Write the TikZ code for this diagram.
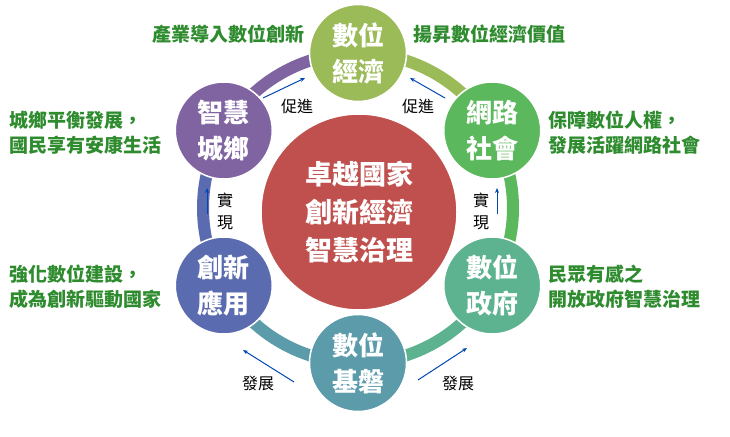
\documentclass[tikz,border=0pt]{standalone}
\usepackage{fontspec}
\setmainfont{Noto Sans CJK TC}
\usetikzlibrary{arrows.meta}
\definecolor{cPurple}{HTML}{8064A2}
\definecolor{cLime}{HTML}{9BBB59}
\definecolor{cGreen}{HTML}{5CB85C}
\definecolor{cSea}{HTML}{5DB38F}
\definecolor{cTeal}{HTML}{5B9BAA}
\definecolor{cBlue}{HTML}{5B6BAF}
\definecolor{cRed}{HTML}{C0504D}
\definecolor{cText}{HTML}{2E8B2E}
\tikzset{
  ball/.style={circle, draw=white, line width=1.5pt, minimum size=97pt, inner sep=0pt,
    text=white, font=\fontsize{26}{36}\selectfont\bfseries, align=center},
  ring/.style={line width=12pt},
  flow/.style={draw=blue!60!cyan!70!black, line width=1pt, -{Stealth[length=5pt, width=4pt]}},
  tag/.style={font=\fontsize{16}{19}\selectfont, text=black},
  goal/.style={font=\fontsize{19}{25}\selectfont\bfseries, text=cText, align=left}
}
\begin{document}
\begin{tikzpicture}[x=1pt, y=1pt]
        \useasboundingbox (0,0) rectangle (730,436);
        \coordinate (hub) at (358,228);
        % ring behind the circles
        \draw[ring, cPurple] ([shift={(150:155)}]hub) arc (150:90:155);
        \draw[ring, cLime] ([shift={(90:155)}]hub) arc (90:30:155);
        \draw[ring, cGreen] ([shift={(30:155)}]hub) arc (30:-30:155);
        \draw[ring, cSea] ([shift={(-30:155)}]hub) arc (-30:-90:155);
        \draw[ring, cTeal] ([shift={(-90:155)}]hub) arc (-90:-150:155);
        \draw[ring, cBlue] ([shift={(-150:155)}]hub) arc (-150:-210:155);
        % circles
        \node[ball, fill=cRed, minimum size=196pt, font=\fontsize{27}{38}\selectfont\bfseries] (core) at (359,224) {卓越國家\\創新經濟\\智慧治理};
        \node[ball, fill=cLime] (econ) at ([shift={(90:155)}]hub) {數位\\經濟};
        \node[ball, fill=cGreen] (net) at ([shift={(30:155)}]hub) {網路\\社會};
        \node[ball, fill=cSea] (gov) at ([shift={(-30:155)}]hub) {數位\\政府};
        \node[ball, fill=cTeal] (base) at ([shift={(-90:155)}]hub) {數位\\基磐};
        \node[ball, fill=cBlue] (app) at ([shift={(-150:155)}]hub) {創新\\應用};
        \node[ball, fill=cPurple] (city) at ([shift={(150:155)}]hub) {智慧\\城鄉};
        % small arrows
        \coordinate (pL1) at (263,338); \coordinate (pL2) at (305,358);
        \coordinate (pR1) at (445,338); \coordinate (pR2) at (410,358);
        \coordinate (sL1) at (207,222); \coordinate (sL2) at (207,248);
        \coordinate (sR1) at (497,222); \coordinate (sR2) at (497,248);
        \coordinate (dL1) at (294,54); \coordinate (dL2) at (243,86);
        \coordinate (dR1) at (418,56); \coordinate (dR2) at (467,88);
        \draw[flow] (pL1) -- (pL2);
        \draw[flow] (pR1) -- (pR2);
        \draw[flow] (sL1) -- (sL2);
        \draw[flow] (sR1) -- (sR2);
        \draw[flow] (dL1) -- (dL2);
        \draw[flow] (dR1) -- (dR2);
        \node[tag] (tpL) at (297,330) {促進};
        \node[tag] (tpR) at (418,330) {促進};
        \node[tag, align=center, font=\fontsize{16}{22}\selectfont] (tsL) at (225,225) {實\\現};
        \node[tag, align=center, font=\fontsize{16}{22}\selectfont] (tsR) at (481,225) {實\\現};
        \node[tag] (tdL) at (258,53) {發展};
        \node[tag] (tdR) at (458,53) {發展};
        % goals
        \node[goal, anchor=east] (g1) at (308,402) {產業導入數位創新};
        \node[goal, anchor=west] (g2) at (410,402) {揚昇數位經濟價值};
        \node[goal, anchor=west] (g3) at (6,303) {城鄉平衡發展，\\國民享有安康生活};
        \node[goal, anchor=west] (g4) at (545,303) {保障數位人權，\\發展活躍網路社會};
        \node[goal, anchor=west] (g5) at (6,149) {強化數位建設，\\成為創新驅動國家};
        \node[goal, anchor=west] (g6) at (545,149) {民眾有感之\\開放政府智慧治理};
    \end{tikzpicture}
\end{document}
